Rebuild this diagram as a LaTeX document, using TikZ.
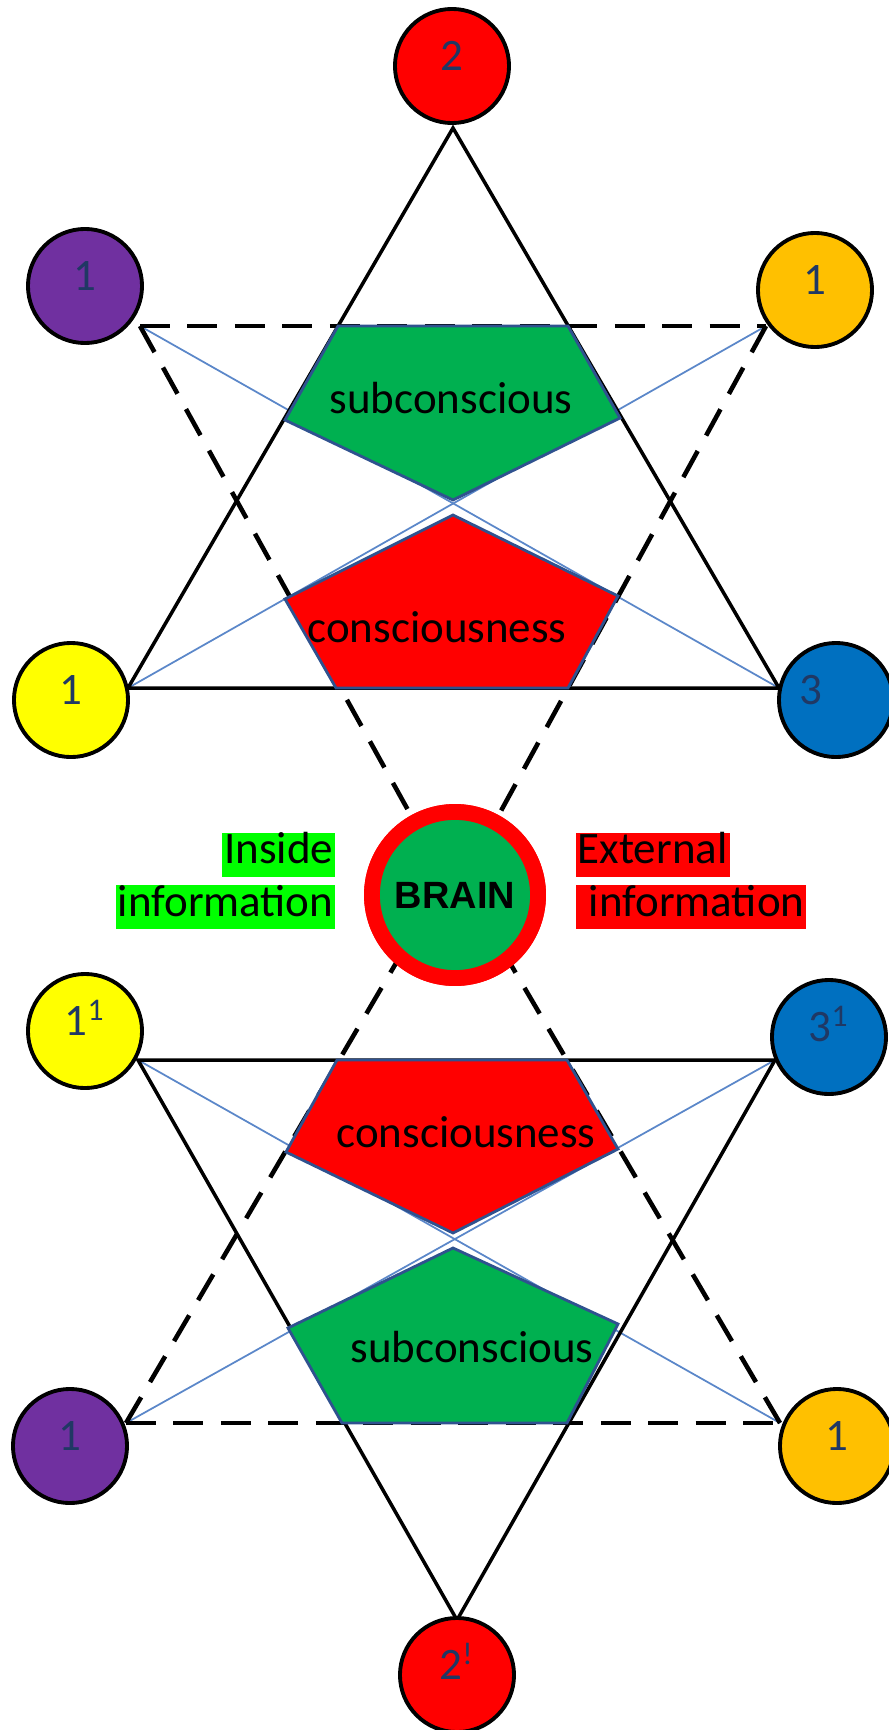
\documentclass[tikz,border=0pt]{standalone}
\usepackage{fontspec}
\setmainfont{Carlito}
\newfontfamily\brainfont{Liberation Sans}
\usetikzlibrary{positioning}
\definecolor{xred}{HTML}{FF0000}
\definecolor{xpurple}{HTML}{7030A0}
\definecolor{xorange}{HTML}{FFC000}
\definecolor{xyellow}{HTML}{FFFF00}
\definecolor{xblue}{HTML}{0070C0}
\definecolor{xgreen}{HTML}{00B050}
\definecolor{xlime}{HTML}{00FF00}
\definecolor{xnavy}{HTML}{203864}
\definecolor{xline}{HTML}{5B87C9}
\definecolor{xedge}{HTML}{2F528F}
\newcommand\txtsize{\fontsize{12.8}{15}\selectfont}

\begin{document}
\begin{tikzpicture}[x=0.01cm,y=-0.01cm,
  numtext/.style={text=xnavy,inner sep=0pt,text height=0.632em,text depth=0.36em,font=\txtsize},
  num/.style={circle,draw,line width=1.1pt,minimum size=1.14cm,numtext},
  triline/.style={line width=1pt},
  dashline/.style={line width=1.3pt,dash pattern=on 8.5pt off 5pt},
  thinline/.style={xline,line width=0.5pt},
  pent/.style={draw=xedge,line width=0.8pt},
  lbl/.style={font=\txtsize},
  infobox/.style={inner xsep=0.02cm,inner ysep=0.045cm,text height=0.75em,text depth=0.25em,font=\txtsize},
  brain/.style={circle,draw=xred,line width=4.5pt,fill=xgreen,minimum size=1.66cm,font=\brainfont\bfseries\fontsize{10.8}{12}\selectfont}]
\useasboundingbox (0,0) rectangle (889,1730);

\coordinate (apexT) at (453,128);
\coordinate (cPL) at (140,326);
\coordinate (cOR) at (766,326);
\coordinate (cYL) at (128,688);
\coordinate (cBR) at (779,688);
\coordinate (apexB) at (457,1620);
\coordinate (cYL2) at (138,1060);
\coordinate (cBR2) at (775,1060);
\coordinate (cPL2) at (126,1423);
\coordinate (cOR2) at (780,1423);
\coordinate (hubL) at (436,895);
\coordinate (hubR) at (470,895);

\draw[thinline] (cPL) -- (cBR);
\draw[thinline] (cYL) -- (cOR);
\draw[thinline] (cYL2) -- (cOR2);
\draw[thinline] (cBR2) -- (cPL2);

\draw[triline] (cYL) -- (apexT) -- (cBR) -- cycle;
\draw[triline] (cYL2) -- (apexB) -- (cBR2) -- cycle;

\node[brain] (brain) at (455,895) {};
\draw[dashline] (cPL) -- (cOR);
\draw[dashline] (cPL) -- (brain.center);
\draw[dashline] (cOR) -- (brain.center);
\draw[dashline] (cPL2) -- (cOR2);
\draw[dashline] (cPL2) -- (hubL);
\draw[dashline] (cOR2) -- (hubR);

\filldraw[pent,fill=xgreen] (338,326) -- (568,326) -- (620,418) -- (453,500) -- (285,420) -- cycle;
\filldraw[pent,fill=xred] (453,515) -- (618,596) -- (568,688) -- (336,688) -- (285,599) -- cycle;
\filldraw[pent,fill=xred] (337,1060) -- (567,1060) -- (618,1149) -- (453,1233) -- (286,1152) -- cycle;
\filldraw[pent,fill=xgreen] (453,1248) -- (618,1324) -- (567,1423) -- (342,1423) -- (288,1328) -- cycle;

\node[lbl] (subT) at (451,398) {subconscious};
\node[lbl] (conT) at (437,627) {consciousness};
\node[lbl] (conB) at (466,1132) {consciousness};
\node[lbl] (subB) at (472,1347) {subconscious};

\node[brain] (brainTop) at (brain) {BRAIN};

\node[infobox,fill=xlime,anchor=north east] (insA) at (336,832) {Inside};
\node[infobox,fill=xlime,below=0.07cm of insA.south east,anchor=north east] (insB) {information};
\node[infobox,fill=xred,anchor=north west] (extA) at (575,832) {External};
\node[infobox,fill=xred,below=0.07cm of extA.south west,anchor=north west] (extB) {\hspace*{0.25em}information};

\node[num,fill=xred] (n2) at (452,66) {2};
\node[num,fill=xpurple] (p1) at (85,286) {1};
\node[num,fill=xorange] (o1) at (815,290) {1};
\node[num,fill=xyellow] (y1) at (71,700) {1};
\node[num,fill=xblue] (b3) at (836,700) {};
\node[numtext] (b3txt) at ([xshift=-0.25cm]b3.center) {3};
\node[num,fill=xyellow] (y1b) at (85,1031) {1\textsuperscript{1}};
\node[num,fill=xblue] (b3b) at (829,1037) {3\textsuperscript{1}};
\node[num,fill=xpurple] (p1b) at (70,1446) {1};
\node[num,fill=xorange] (o1b) at (837,1446) {1};
\node[num,fill=xred] (n2b) at (457,1675) {2\textsuperscript{!}};
\end{tikzpicture}
\end{document}
